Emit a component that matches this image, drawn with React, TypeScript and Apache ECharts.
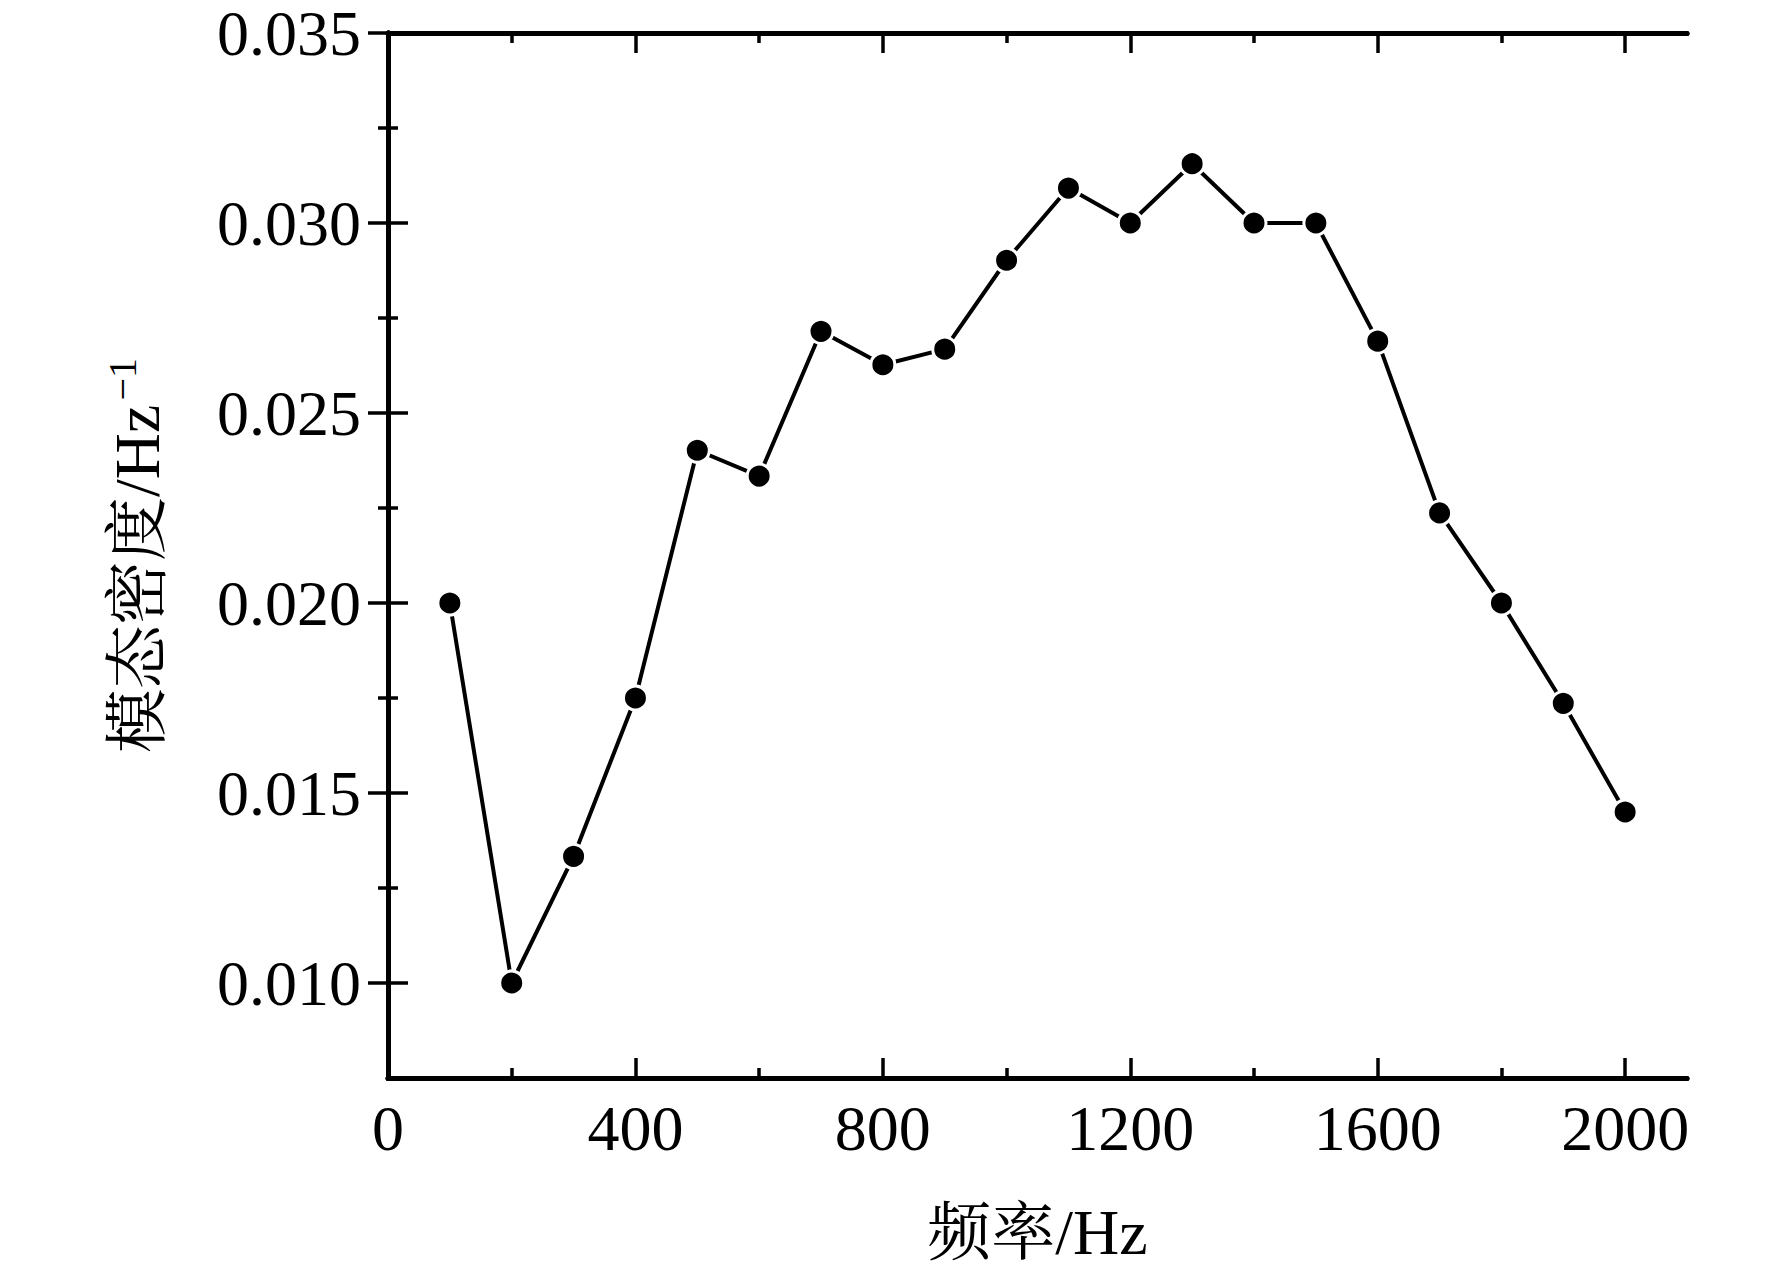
import React, { useEffect, useRef } from "react";
import * as echarts from "echarts";

const frequencies = [100, 200, 300, 400, 500, 600, 700, 800, 900, 1000, 1100, 1200, 1300, 1400, 1500, 1600, 1700, 1800, 1900, 2000];
const modalDensity = [0.0200, 0.0100, 0.01333, 0.0175, 0.02402, 0.02334, 0.02715, 0.02627, 0.02668, 0.02902, 0.03092, 0.0300, 0.03156, 0.0300, 0.0300, 0.02689, 0.02237, 0.0200, 0.01736, 0.0145];

const xMajorTicks = [0, 400, 800, 1200, 1600, 2000];
const xMinorTicks = [200, 600, 1000, 1400, 1800];
const yMajorTicks = [0.010, 0.015, 0.020, 0.025, 0.030, 0.035];
const yMinorTicks = [0.0125, 0.0175, 0.0225, 0.0275, 0.0325];

const X_MIN = 0;
const X_MAX = 2100;
const Y_MIN = 0.0075;
const Y_MAX = 0.035;

const FONT = "'Times New Roman', 'Liberation Serif', 'Noto Serif CJK SC', 'Noto Sans CJK SC', serif";

export default function App() {
  const ref = useRef<HTMLDivElement>(null);

  useEffect(() => {
    if (!ref.current) return;
    const chart = echarts.init(ref.current, undefined, { renderer: "svg" });
    const lineStyle = { color: "#000", width: 5 };
    const tickStyle = { color: "#000", width: 3.5 };

    const xAxisBase = (position: string, ticks: number[], len: number, labels: boolean, extra: any = {}) => ({
      type: "value",
      position,
      min: X_MIN,
      max: X_MAX,
      splitLine: { show: false },
      axisLine: { show: true, lineStyle },
      axisTick: { show: true, inside: true, length: len, customValues: ticks, lineStyle: tickStyle },
      axisLabel: labels
        ? {
            show: true,
            customValues: ticks,
            fontSize: 64,
            fontFamily: FONT,
            color: "#000",
            margin: 18,
            formatter: (v: number) => String(v),
          }
        : { show: false },
      ...extra,
    });

    const yAxisBase = (position: string, ticks: number[], len: number, labels: boolean, extra: any = {}) => ({
      type: "value",
      position,
      min: Y_MIN,
      max: Y_MAX,
      splitLine: { show: false },
      axisLine: { show: true, lineStyle },
      axisTick: { show: true, inside: true, length: len, customValues: ticks, lineStyle: tickStyle },
      axisLabel: labels
        ? {
            show: true,
            customValues: ticks,
            fontSize: 64,
            lineHeight: 60,
            fontFamily: FONT,
            color: "#000",
            margin: 27,
            formatter: (v: number) => v.toFixed(3),
          }
        : { show: false },
      ...extra,
    });

    chart.setOption({
      animation: false,
      backgroundColor: "#fff",
      grid: { left: 388, right: 85, top: 33, bottom: 200, containLabel: false },
      xAxis: [
        xAxisBase("bottom", xMajorTicks, 20, true, {
          name: "频率/Hz",
          nameLocation: "middle",
          nameGap: 122,
          nameTextStyle: { fontSize: 64, fontFamily: FONT, color: "#000" },
        }),
        xAxisBase("bottom", xMinorTicks, 10, false),
        xAxisBase("top", xMajorTicks, 20, false),
        xAxisBase("top", xMinorTicks, 10, false),
      ],
      yAxis: [
        yAxisBase("left", yMajorTicks, 20, true, {
          name: "模态密度/Hz{sup|−1}",
          nameLocation: "middle",
          nameGap: 216,
          nameTextStyle: {
            fontSize: 64,
            fontFamily: FONT,
            color: "#000",
            rich: {
              sup: { fontSize: 40, fontFamily: FONT, color: "#000", verticalAlign: "top", padding: [0, 0, 30, 4] },
            },
          },
        }),
        yAxisBase("left", yMinorTicks, 10, false),
        yAxisBase("right", yMajorTicks, 20, false),
        yAxisBase("right", yMinorTicks, 10, false),
      ],
      series: [
        {
          type: "line",
          xAxisIndex: 0,
          yAxisIndex: 0,
          data: frequencies.map((f, i) => [f, modalDensity[i]]),
          symbol: "circle",
          symbolSize: 24,
          showAllSymbol: true,
          lineStyle: { color: "#000", width: 4 },
          itemStyle: { color: "#000", borderColor: "#fff", borderWidth: 3 },
          z: 3,
        },
      ],
    });

    return () => chart.dispose();
  }, []);

  return (
    <div
      ref={ref}
      style={{ position: "fixed", left: 0, top: 0, width: 1772, height: 1278, background: "#fff" }}
    />
  );
}
